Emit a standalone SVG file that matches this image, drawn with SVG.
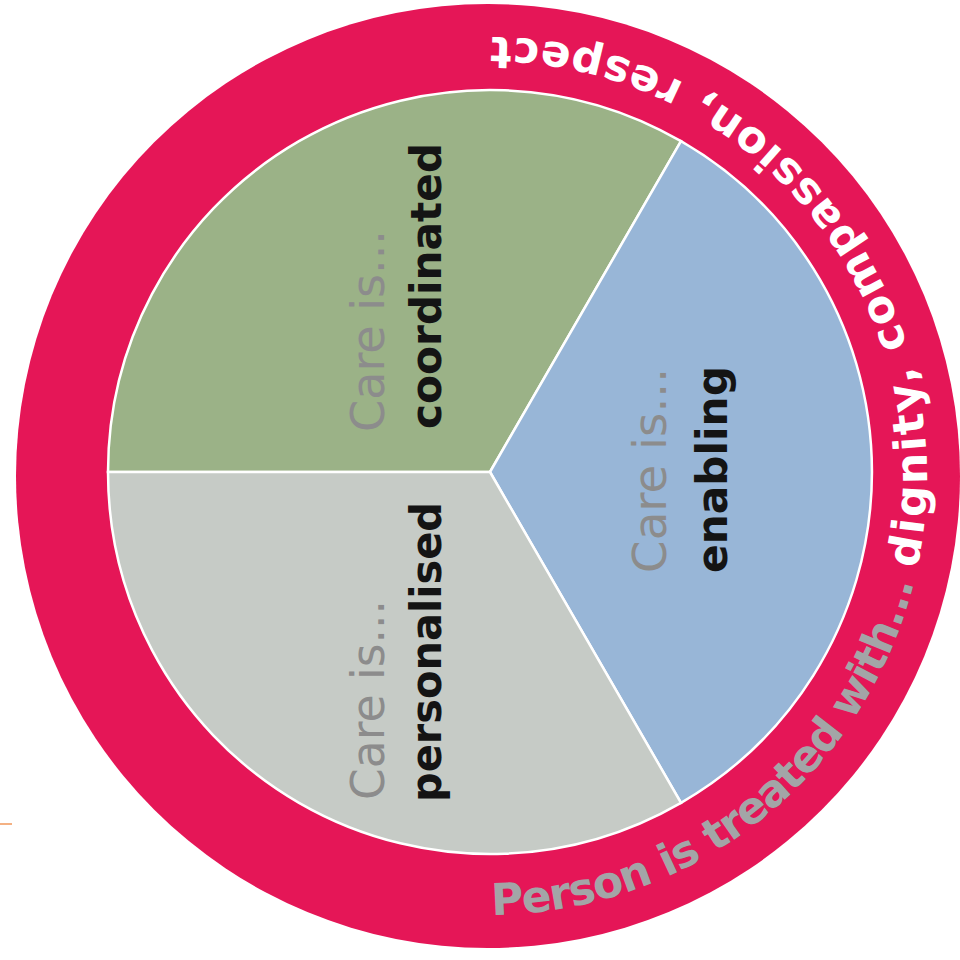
<svg xmlns="http://www.w3.org/2000/svg" width="960" height="960" viewBox="0 0 960 960">
<defs>
<style>
.care{font-family:"DejaVu Sans","Liberation Sans",sans-serif;font-size:46px;fill:#8c8c8c;}
.kind{font-family:"DejaVu Sans","Liberation Sans",sans-serif;font-size:43px;font-weight:bold;fill:#141414;}
.ring{font-family:"DejaVu Sans","Liberation Sans",sans-serif;font-size:44px;font-weight:bold;}
.sector{stroke:#ffffff;stroke-width:2.5;}
</style>
<path id="ringPath" d="M 488 915 A 439 439 0 0 0 488 37 A 439 439 0 0 0 488 915"/>
</defs>
<rect width="960" height="960" fill="#ffffff"/>
<line x1="0" y1="824" x2="12" y2="824" stroke="#f4b183" stroke-width="2"/>
<g id="ring">
<circle cx="488" cy="476" r="472" fill="#e51657"/>
<text class="ring" fill="#a3a5a7"><textPath href="#ringPath" startOffset="4" textLength="578" lengthAdjust="spacing">Person is treated with...</textPath></text>
<text class="ring" fill="#ffffff"><textPath href="#ringPath" startOffset="596" textLength="780" lengthAdjust="spacing">dignity, compassion, respect</textPath></text>
</g>
<g id="coordinated">
<path class="sector" fill="#9bb287" d="M 490 472 L 108 472 A 382 382 0 0 1 681 141.2 Z"/>
<text class="care" transform="translate(384,432) rotate(-90)" textLength="202" lengthAdjust="spacingAndGlyphs">Care is...</text>
<text class="kind" transform="translate(441,429) rotate(-90)" textLength="286" lengthAdjust="spacingAndGlyphs">coordinated</text>
</g>
<g id="enabling">
<path class="sector" fill="#98b6d7" d="M 490 472 L 681 141.2 A 382 382 0 0 1 681 802.8 Z"/>
<text class="care" transform="translate(666,573) rotate(-90)" textLength="205" lengthAdjust="spacingAndGlyphs">Care is...</text>
<text class="kind" transform="translate(727,573) rotate(-90)" textLength="207" lengthAdjust="spacingAndGlyphs">enabling</text>
</g>
<g id="personalised">
<path class="sector" fill="#c6cbc6" d="M 490 472 L 681 802.8 A 382 382 0 0 1 108 472 Z"/>
<text class="care" transform="translate(384,800) rotate(-90)" textLength="200" lengthAdjust="spacingAndGlyphs">Care is...</text>
<text class="kind" transform="translate(441,802) rotate(-90)" textLength="300" lengthAdjust="spacingAndGlyphs">personalised</text>
</g>
<g id="connectors"></g>
</svg>
